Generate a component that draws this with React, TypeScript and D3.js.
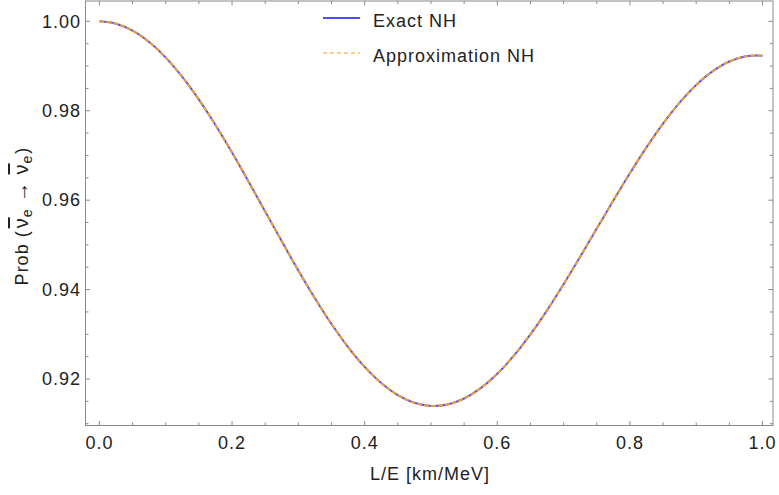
import * as d3 from "d3";
import React from "react";

const width = 779;
const height = 495;
const frame = { left: 85.5, right: 773, top: 1, bottom: 425.5 };

// L/E in km/MeV
const lOverE = [
  0, 0.025, 0.05, 0.075, 0.1, 0.125, 0.15, 0.175, 0.2, 0.225, 0.25, 0.275, 0.3,
  0.325, 0.35, 0.375, 0.4, 0.425, 0.45, 0.475, 0.5, 0.525, 0.55, 0.575, 0.6,
  0.625, 0.65, 0.675, 0.7, 0.725, 0.75, 0.775, 0.8, 0.825, 0.85, 0.875, 0.9,
  0.925, 0.95, 0.975, 1.0,
];

const probExact = [
  1.0, 0.99948, 0.99792, 0.99537, 0.99189, 0.98756, 0.98249, 0.97681, 0.97064,
  0.96414, 0.95747, 0.95079, 0.94427, 0.93805, 0.93229, 0.92714, 0.9227,
  0.9191, 0.91641, 0.91469, 0.91398, 0.9143, 0.91564, 0.91795, 0.92117,
  0.92522, 0.92999, 0.93536, 0.9412, 0.94734, 0.95364, 0.95992, 0.96603,
  0.97182, 0.97713, 0.98181, 0.98576, 0.98885, 0.99102, 0.99219, 0.99233,
];

const probApprox = [
  1.0, 0.99948, 0.99792, 0.99537, 0.99189, 0.98756, 0.98249, 0.97681, 0.97064,
  0.96414, 0.95747, 0.95079, 0.94427, 0.93805, 0.93229, 0.92714, 0.9227,
  0.9191, 0.91641, 0.91469, 0.91398, 0.9143, 0.91564, 0.91795, 0.92117,
  0.92522, 0.92999, 0.93536, 0.9412, 0.94734, 0.95364, 0.95992, 0.96603,
  0.97182, 0.97713, 0.98181, 0.98576, 0.98885, 0.99102, 0.99219, 0.99233,
];

const xMajor = [0, 0.2, 0.4, 0.6, 0.8, 1.0];
const yMajor = [0.92, 0.94, 0.96, 0.98, 1.0];
const legendLabels = ["Exact NH", "Approximation NH"];

const blue = "#4f4fff";
const orange = "#f0a030";
const frameColor = "#8a8a8a";
const font = "'Liberation Sans', Arial, sans-serif";

const App = () => {
  const xScale = d3
    .scaleLinear()
    .domain([-0.021, 1.0158])
    .range([frame.left, frame.right]);
  const yScale = d3
    .scaleLinear()
    .domain([0.9096, 1.00455])
    .range([frame.bottom, frame.top]);

  const xMinor = d3.range(0, 1.0001, 0.05).filter((v) => !xMajor.some((m) => Math.abs(m - v) < 1e-6));
  const yMinor = d3.range(0.91, 1.0001, 0.005).filter((v) => !yMajor.some((m) => Math.abs(m - v) < 1e-6));

  const line = d3
    .line<number>()
    .x((d, i) => xScale(lOverE[i]))
    .y((d) => yScale(d))
    .curve(d3.curveCatmullRom);

  return (
    <svg
      width={width}
      height={height}
      style={{ position: "absolute", left: 0, top: 0, background: "#fff" }}
      fontFamily={font}
    >
      {/* frame */}
      <rect
        x={frame.left}
        y={frame.top}
        width={frame.right - frame.left}
        height={frame.bottom - frame.top}
        fill="none"
        stroke={frameColor}
        strokeWidth={1}
      />

      {/* x ticks, bottom and top */}
      {xMajor.map((v) => (
        <g key={"xM" + v} stroke={frameColor}>
          <line x1={xScale(v)} x2={xScale(v)} y1={frame.bottom} y2={frame.bottom - 4.5} />
          <line x1={xScale(v)} x2={xScale(v)} y1={frame.top} y2={frame.top + 4.5} />
        </g>
      ))}
      {xMinor.map((v) => (
        <g key={"xm" + v} stroke={frameColor}>
          <line x1={xScale(v)} x2={xScale(v)} y1={frame.bottom} y2={frame.bottom - 3} />
          <line x1={xScale(v)} x2={xScale(v)} y1={frame.top} y2={frame.top + 3} />
        </g>
      ))}
      {xMajor.map((v) => (
        <text
          key={"xl" + v}
          x={xScale(v)}
          y={449}
          textAnchor="middle"
          fontSize={18}
          letterSpacing={1}
          fill="#222"
        >
          {d3.format(".1f")(v)}
        </text>
      ))}

      {/* y ticks, left and right */}
      {yMajor.map((v) => (
        <g key={"yM" + v} stroke={frameColor}>
          <line x1={frame.left} x2={frame.left + 4.5} y1={yScale(v)} y2={yScale(v)} />
          <line x1={frame.right} x2={frame.right - 4.5} y1={yScale(v)} y2={yScale(v)} />
        </g>
      ))}
      {yMinor.map((v) => (
        <g key={"ym" + v} stroke={frameColor}>
          <line x1={frame.left} x2={frame.left + 3} y1={yScale(v)} y2={yScale(v)} />
          <line x1={frame.right} x2={frame.right - 3} y1={yScale(v)} y2={yScale(v)} />
        </g>
      ))}
      {yMajor.map((v) => (
        <text
          key={"yl" + v}
          x={81}
          y={yScale(v)}
          dy="0.35em"
          textAnchor="end"
          fontSize={18}
          letterSpacing={1}
          fill="#222"
        >
          {d3.format(".2f")(v)}
        </text>
      ))}

      {/* axis labels */}
      <text x={430} y={480} textAnchor="middle" fontSize={18} letterSpacing={1} fill="#222">
        L/E [km/MeV]
      </text>
      <text
        transform="translate(28,216) rotate(-90)"
        textAnchor="middle"
        fontSize={18}
        letterSpacing={1}
        fill="#222"
      >
        {"Prob ("}
        <tspan fontSize={20} dx={2} textDecoration="overline">{"\u03BD"}</tspan>
        <tspan dy={4} fontSize={14}>e</tspan>
        <tspan dy={-4} fontSize={20}>{" \u2192 "}</tspan>
        <tspan fontSize={20} textDecoration="overline">{"\u03BD"}</tspan>
        <tspan dy={4} fontSize={14}>e</tspan>
        <tspan dy={-4} dx={1}>{")"}</tspan>
      </text>

      {/* curves */}
      <path d={line(probExact) ?? ""} fill="none" stroke={blue} strokeWidth={2} />
      <path
        d={line(probApprox) ?? ""}
        fill="none"
        stroke={orange}
        strokeWidth={2}
        strokeDasharray="5,2"
      />

      {/* legend */}
      <line x1={323} x2={360} y1={18} y2={18} stroke={blue} strokeWidth={2} />
      <text x={373} y={27} fontSize={18} letterSpacing={1} fill="#222">
        {legendLabels[0]}
      </text>
      <line x1={323} x2={360} y1={53} y2={53} stroke={orange} strokeWidth={1.2} strokeDasharray="4,3" />
      <text x={373} y={62} fontSize={18} letterSpacing={1} fill="#222">
        {legendLabels[1]}
      </text>
    </svg>
  );
};

export default App;
